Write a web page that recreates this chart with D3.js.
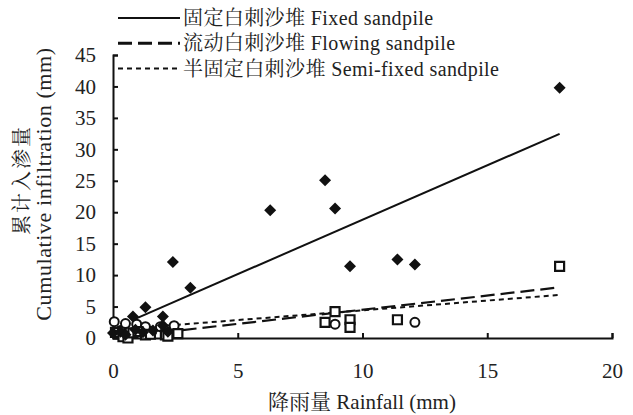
<!DOCTYPE html>
<html>
<head>
<meta charset="utf-8">
<script src="https://cdn.jsdelivr.net/npm/d3@7"></script>
<style>
  body { margin: 0; background: #fff; }
</style>
</head>
<body>
<div class="chart"></div>
<script>
// rainfall (mm) / cumulative infiltration (mm) per sandpile type
const fixedX = [0.0, 0.3, 0.5, 0.8, 0.9, 1.2, 1.3, 1.6, 2.0, 2.0, 2.2, 2.4, 3.1, 6.3, 8.5, 8.9, 9.5, 11.4, 12.1, 17.9];
const fixedY = [0.8, 1.0, 0.5, 3.4, 1.3, 0.9, 4.9, 1.2, 3.4, 2.0, 1.0, 12.1, 8.0, 20.3, 25.1, 20.6, 11.4, 12.5, 11.7, 39.8];

const flowingX = [0.1, 0.4, 0.6, 0.8, 1.0, 1.3, 1.5, 2.1, 2.2, 2.6, 8.5, 8.9, 9.5, 9.5, 11.4, 17.9];
const flowingY = [0.9, 0.2, 0.0, 0.8, 1.0, 0.5, 0.6, 0.5, 0.3, 0.7, 2.5, 4.2, 2.9, 1.7, 2.9, 11.4];

const semiX = [0.05, 0.3, 0.5, 0.95, 1.3, 1.9, 2.45, 8.9, 12.1];
const semiY = [2.6, 1.2, 2.3, 2.2, 1.8, 1.8, 1.95, 2.2, 2.5];

// fitted lines: [x0, x1, slope, intercept]
const fixedFit = [0.8, 17.9, 1.73, 1.5];
const flowingFit = [0.4, 17.9, 0.45, 0.0];
const semiFit = [0.0, 17.9, 0.31, 1.3];

const xTicks = [0, 5, 10, 15, 20];
const yTicks = [0, 5, 10, 15, 20, 25, 30, 35, 40, 45];

const legendLabels = [
  "固定白刺沙堆 Fixed sandpile",
  "流动白刺沙堆 Flowing sandpile",
  "半固定白刺沙堆 Semi-fixed sandpile"
];

const serif = "Liberation Serif, Noto Serif CJK SC, serif";

const width = 633;
const height = 415;
const svg = d3
  .select(".chart")
  .append("svg")
  .attr("width", width)
  .attr("height", height);

const x = d3.scaleLinear().domain([0, 20]).range([113, 612]);
const y = d3.scaleLinear().domain([0, 45]).range([338, 55]);

// axes
const xAxis = svg
  .append("g")
  .attr("transform", "translate(0,338)")
  .call(d3.axisBottom(x).tickValues(xTicks).tickSize(-5).tickSizeOuter(-5).tickPadding(25));
const yAxis = svg
  .append("g")
  .attr("transform", "translate(113,0)")
  .call(d3.axisLeft(y).tickValues(yTicks).tickSize(-5).tickSizeOuter(-5).tickPadding(17));

[xAxis, yAxis].forEach((g) => {
  g.select(".domain").attr("stroke", "#111").attr("stroke-width", 2);
  g.selectAll(".tick line").attr("stroke", "#111").attr("stroke-width", 2);
  g.selectAll(".tick text")
    .attr("font-size", 21)
    .attr("font-family", serif)
    .attr("fill", "#222");
});

// fitted lines
const fits = [
  { fit: fixedFit, dash: null, w: 2 },
  { fit: flowingFit, dash: "14,6", w: 2.2 },
  { fit: semiFit, dash: "5,4", w: 2 }
];
svg
  .selectAll("line.fit")
  .data(fits)
  .enter()
  .append("line")
  .attr("class", "fit")
  .attr("x1", (d) => x(d.fit[0]))
  .attr("y1", (d) => y(d.fit[2] * d.fit[0] + d.fit[3]))
  .attr("x2", (d) => x(d.fit[1]))
  .attr("y2", (d) => y(d.fit[2] * d.fit[1] + d.fit[3]))
  .attr("stroke", "#111")
  .attr("stroke-width", (d) => d.w)
  .attr("stroke-dasharray", (d) => d.dash);

// open circles (semi-fixed)
svg
  .selectAll("circle.semi")
  .data(semiX)
  .enter()
  .append("circle")
  .attr("class", "semi")
  .attr("cx", (d) => x(d))
  .attr("cy", (d, i) => y(semiY[i]))
  .attr("r", 4.5)
  .attr("fill", "#fff")
  .attr("stroke", "#111")
  .attr("stroke-width", 2);

// open squares (flowing)
svg
  .selectAll("path.flowing")
  .data(flowingX)
  .enter()
  .append("path")
  .attr("class", "flowing")
  .attr("d", d3.symbol(d3.symbolSquare, 81))
  .attr("transform", (d, i) => `translate(${x(d)},${y(flowingY[i])})`)
  .attr("fill", "#fff")
  .attr("stroke", "#111")
  .attr("stroke-width", 2.2);

// filled diamonds (fixed)
svg
  .selectAll("path.fixed")
  .data(fixedX)
  .enter()
  .append("path")
  .attr("class", "fixed")
  .attr("d", d3.symbol(d3.symbolSquare, 72))
  .attr("transform", (d, i) => `translate(${x(d)},${y(fixedY[i])}) rotate(45)`)
  .attr("fill", "#111");

// legend
const legend = svg
  .selectAll("g.legend")
  .data(legendLabels)
  .enter()
  .append("g")
  .attr("class", "legend")
  .attr("transform", (d, i) => `translate(118,${18 + i * 25.3})`);
legend
  .append("line")
  .attr("x1", 0)
  .attr("x2", 62)
  .attr("stroke", "#111")
  .attr("stroke-width", (d, i) => (i === 1 ? 3 : 2))
  .attr("stroke-dasharray", (d, i) => fits[i].dash);
legend
  .append("text")
  .attr("x", 65)
  .attr("dy", "0.35em")
  .attr("font-size", 20)
  .attr("letter-spacing", 0.4)
  .attr("font-family", serif)
  .attr("fill", "#222")
  .text((d) => d);

// axis titles
svg
  .append("text")
  .attr("x", 362)
  .attr("y", 409)
  .attr("text-anchor", "middle")
  .attr("font-size", 21)
  .attr("font-family", serif)
  .attr("fill", "#222")
  .text("降雨量 Rainfall (mm)");

svg
  .append("text")
  .attr("transform", "translate(29,180) rotate(-90)")
  .attr("text-anchor", "middle")
  .attr("font-size", 20)
  .attr("letter-spacing", 2)
  .attr("font-family", serif)
  .attr("fill", "#222")
  .text("累计入渗量");
svg
  .append("text")
  .attr("transform", "translate(51,184) rotate(-90)")
  .attr("text-anchor", "middle")
  .attr("font-size", 22)
  .attr("letter-spacing", 0.6)
  .attr("font-family", serif)
  .attr("fill", "#222")
  .text("Cumulative infiltration (mm)");
</script>
</body>
</html>
